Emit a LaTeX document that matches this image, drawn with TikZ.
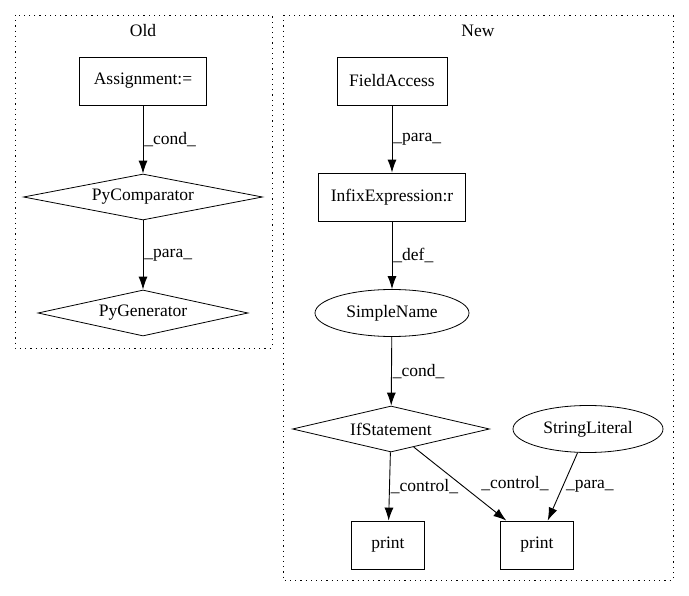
\documentclass[tikz,border=0pt]{standalone}
\usepackage{fontspec}
\setmainfont{Liberation Serif}
\usepackage{tikz}
\usetikzlibrary{arrows.meta}
\usetikzlibrary{shapes.geometric}
\usetikzlibrary{positioning}

\tikzset{
    box/.style={draw, line width=0.8pt, inner sep=0pt, minimum height=48pt},
    raute/.style={draw, line width=0.8pt, diamond, aspect=5, inner sep=0pt, minimum height=46pt},
    oval/.style={draw, line width=0.8pt, ellipse, inner sep=0pt, minimum width=154pt, minimum height=47pt},
    pfeil/.style={-{Latex[length=13pt,width=9pt]}, line width=0.9pt},
    lbl/.style={anchor=west, inner sep=1pt},
    cluster/.style={line width=0.9pt, dash pattern=on 1.2pt off 4pt}
}

\begin{document}
\begin{tikzpicture}[x=1pt, y=-1pt, font=\fontsize{17.5}{20}\selectfont]

    \useasboundingbox (0,0) rectangle (689,596);

    % Cluster zeichnen
    \draw[cluster] (15,15) rectangle (272,348);
    \draw[cluster] (283,15) rectangle (673,580);
    \node (titleold) at (143,31) {Old};
    \node (titlenew) at (478,31) {New};

    % Knoten links (Old)
    \node[box, minimum width=127pt] (assign) at (143,81) {Assignment:=};
    \node[raute, minimum width=239pt] (pycomp) at (143,197) {PyComparator};
    \node[raute, minimum width=210pt] (pygen) at (143,313) {PyGenerator};

    % Knoten rechts (New)
    \node[box, minimum width=110pt] (fieldacc) at (392,81) {FieldAccess};
    \node[box, minimum width=147pt] (infix) at (392,197) {InfixExpression:r};
    \node[oval] (simplename) at (392,313) {SimpleName};
    \node[raute, minimum width=197pt] (ifstmt) at (391,429) {IfStatement};
    \node[oval, minimum width=150pt] (strlit) at (588,429) {StringLiteral};
    \node[box, minimum width=73pt] (printa) at (388,545) {print};
    \node[box, minimum width=73pt] (printb) at (537,545) {print};

    % Kanten
    \draw[pfeil] (assign) -- node[lbl] {\_cond\_} (pycomp);
    \draw[pfeil] (pycomp) -- node[lbl] {\_para\_} (pygen);
    \draw[pfeil] (fieldacc) -- node[lbl] {\_para\_} (infix);
    \draw[pfeil] (infix) -- node[lbl] {\_def\_} (simplename);
    \draw[pfeil] (simplename) -- node[lbl] {\_cond\_} (ifstmt);
    \draw[pfeil] (ifstmt) -- node[lbl] {\_control\_} (printa);
    \draw[pfeil] (ifstmt) -- node[lbl, xshift=20pt] {\_control\_} (printb);
    \draw[pfeil] (strlit) -- node[lbl, xshift=2pt] {\_para\_} (printb);

\end{tikzpicture}
\end{document}
